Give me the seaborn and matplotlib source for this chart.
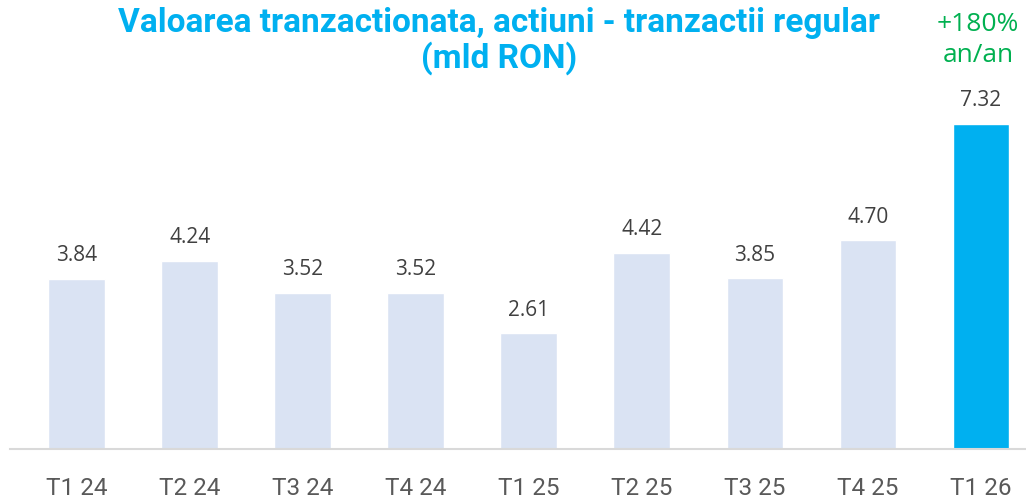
import matplotlib
matplotlib.use("Agg")
import matplotlib.pyplot as plt
import seaborn as sns
import pandas as pd

categories = ["T1 24", "T2 24", "T3 24", "T4 24", "T1 25", "T2 25", "T3 25", "T4 25", "T1 26"]
values = [3.84, 4.24, 3.52, 3.52, 2.61, 4.42, 3.85, 4.70, 7.32]
value_labels = ["3.84", "4.24", "3.52", "3.52", "2.61", "4.42", "3.85", "4.70", "7.32"]
title_text = "Valoarea tranzactionata, actiuni - tranzactii regular\n(mld RON)"
growth_text = "+180%\nan/an"

sns.set_style("white")
plt.rcParams['font.family'] = ['Roboto', 'DejaVu Sans']

df = pd.DataFrame({"cat": categories, "val": values})
colors = ["#DAE3F3"] * (len(categories) - 1) + ["#00B0F0"]

fig = plt.figure(figsize=(10.26, 4.98), dpi=100)
W, H = 1026, 498
ax = fig.add_axes([10 / W, 49 / H, 1016 / W, 349 / H])
sns.barplot(data=df, x="cat", y="val", hue="cat", palette=colors, legend=False,
            width=0.5, ax=ax, saturation=1)
ax.set_xlim(-0.59, 8.4)
ax.set_ylim(0, 349 / 44.4)
for s in ["top", "right", "left"]:
    ax.spines[s].set_visible(False)
ax.spines["bottom"].set_color("#D9D9D9")
ax.spines["bottom"].set_linewidth(1.5)
ax.set_yticks([])
ax.set_xlabel("")
ax.set_ylabel("")
ax.tick_params(axis="x", length=0, pad=20, labelsize=17.5, labelcolor="#595959")

for i, (v, lab) in enumerate(zip(values, value_labels)):
    ax.annotate(lab, (i, v), xytext=(0, 9), textcoords="offset points",
                ha="center", va="bottom", fontsize=15, color="#404040",
                family=['Open Sans', 'DejaVu Sans'])

fig.text(499 / W, 1 - 41 / H, title_text, ha="center", va="center",
         fontsize=24, fontweight="bold", color="#00B0F0", linespacing=1.1,
         family=['Roboto', 'DejaVu Sans'])
fig.text(978 / W, 1 - 40 / H, growth_text, ha="center", va="center",
         fontsize=19, color="#00B050", linespacing=1.35,
         family=['Open Sans', 'DejaVu Sans'])

fig.savefig("out.png", dpi=100)
